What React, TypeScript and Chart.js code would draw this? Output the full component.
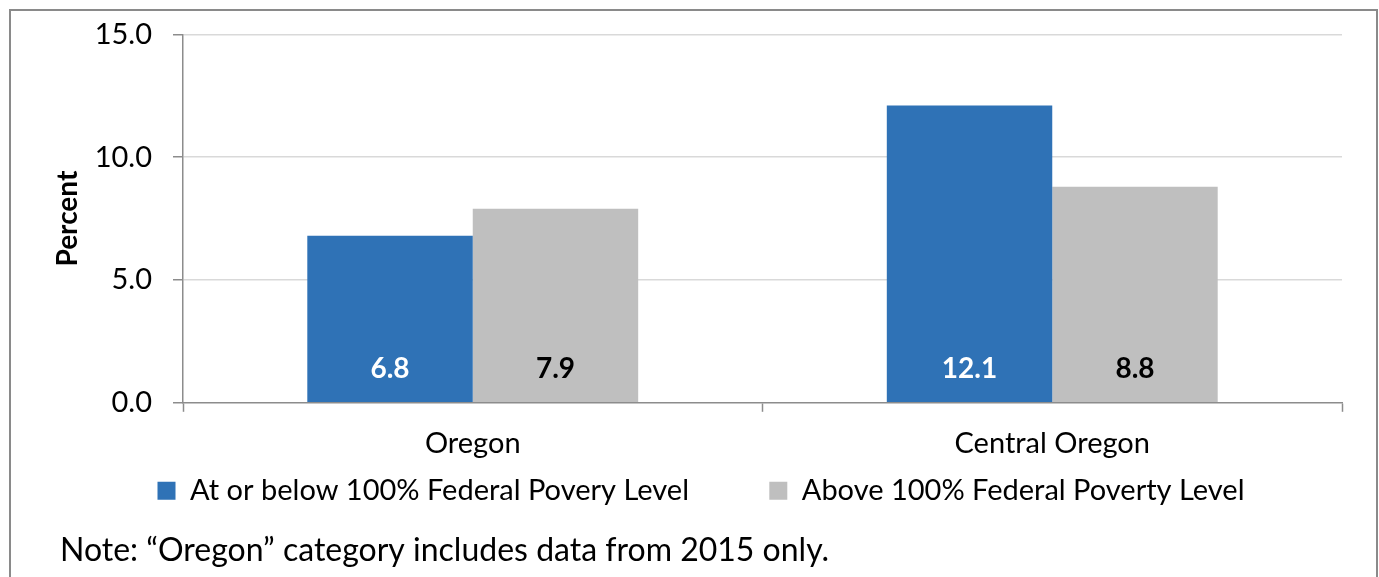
import React, { useEffect, useRef } from 'react';
import { Chart, registerables } from 'chart.js';

Chart.register(...registerables);

const categories = ['Oregon', 'Central Oregon'];
const belowFPL = [6.8, 12.1];
const aboveFPL = [7.9, 8.8];
const seriesNames = ['At or below 100% Federal Povery Level', 'Above 100% Federal Poverty Level'];
const yTicks = [0, 5, 10, 15];
const yTitle = 'Percent';
const noteText = 'Note: \u201COregon\u201D category includes data from 2015 only.';

const FONT = 'Lato';
const AXIS = '#8c8c8c';
const GRID = '#d9d9d9';

const barLabels = {
  id: 'barLabels',
  afterDatasetsDraw(chart: any) {
    const ctx = chart.ctx;
    ctx.save();
    ctx.font = `bold 28px ${FONT}`;
    ctx.textAlign = 'center';
    ctx.textBaseline = 'middle';
    chart.data.datasets.forEach((ds: any, di: number) => {
      const meta = chart.getDatasetMeta(di);
      meta.data.forEach((el: any, i: number) => {
        ctx.fillStyle = di === 0 ? '#ffffff' : '#000000';
        ctx.fillText(Number(ds.data[i]).toFixed(1), el.x, el.base - 33);
      });
    });
    ctx.restore();
  },
};

export default function App() {
  const ref = useRef<HTMLCanvasElement>(null);
  useEffect(() => {
    if (!ref.current) return;
    const chart = new Chart(ref.current, {
      type: 'bar',
      data: {
        labels: categories,
        datasets: [
          { label: seriesNames[0], data: belowFPL, backgroundColor: '#2f72b6', borderWidth: 0 },
          { label: seriesNames[1], data: aboveFPL, backgroundColor: '#bfbfbf', borderWidth: 0 },
        ],
      },
      options: {
        responsive: false,
        animation: false,
        devicePixelRatio: 1,
        datasets: { bar: { categoryPercentage: 0.571, barPercentage: 1 } },
        layout: { padding: { left: 49, right: 34, top: 0, bottom: 7 } },
        scales: {
          x: {
            afterFit: (s: any) => { s.height = 60; },
            grid: { display: true, drawOnChartArea: false, drawTicks: true, tickLength: 9, tickColor: AXIS, tickWidth: 1.5, offset: true },
            border: { display: true, color: AXIS, width: 1.5 },
            ticks: { color: '#000', font: { family: FONT, size: 29 }, padding: 14 },
          },
          y: {
            min: 0,
            max: 15,
            afterFit: (s: any) => { s.width = 123; },
            afterBuildTicks: (s: any) => { s.ticks = yTicks.map((v) => ({ value: v })); },
            grid: {
              color: (c: any) => (c.tick && c.tick.value === 0 ? 'rgba(0,0,0,0)' : GRID),
              lineWidth: 1.5,
              drawTicks: true,
              tickLength: 10,
              tickColor: AXIS,
              tickWidth: 1.5,
            },
            border: { display: true, color: AXIS, width: 1.5 },
            ticks: { color: '#000', font: { family: FONT, size: 29 }, padding: 21, callback: (v: any) => Number(v).toFixed(1) },
            title: { display: true, text: yTitle, color: '#000', font: { family: FONT, size: 28, weight: 'bold', lineHeight: 1 }, padding: { top: -6, bottom: 0 } },
          },
        },
        plugins: {
          legend: {
            display: true,
            position: 'bottom',
            labels: {
              color: '#000',
              font: { family: FONT, size: 29 },
              boxWidth: 18,
              boxHeight: 18,
              padding: 13.5,
              generateLabels: (c: any) => {
                const items = (Chart.defaults as any).plugins.legend.labels.generateLabels(c);
                return items.map((it: any, i: number) => (i < items.length - 1 ? { ...it, text: it.text + ' '.repeat(9) } : it));
              },
            },
          },
          title: {
            display: true,
            position: 'bottom',
            align: 'start',
            text: noteText,
            color: '#000',
            font: { family: FONT, size: 32, weight: 'normal', lineHeight: 1.2 },
            padding: { top: 16.3, bottom: 0 },
          },
          tooltip: { enabled: false },
        },
      },
      plugins: [barLabels],
    } as any);
    return () => chart.destroy();
  }, []);
  return (
    <div style={{ position: 'absolute', left: 9, top: 9, width: 1369, height: 620, border: '2px solid #8a8a8a', boxSizing: 'border-box', background: '#fff' }}>
      <canvas ref={ref} width={1365} height={581} style={{ display: 'block', position: 'relative', top: -15, width: 1365, height: 581 }} />
    </div>
  );
}
